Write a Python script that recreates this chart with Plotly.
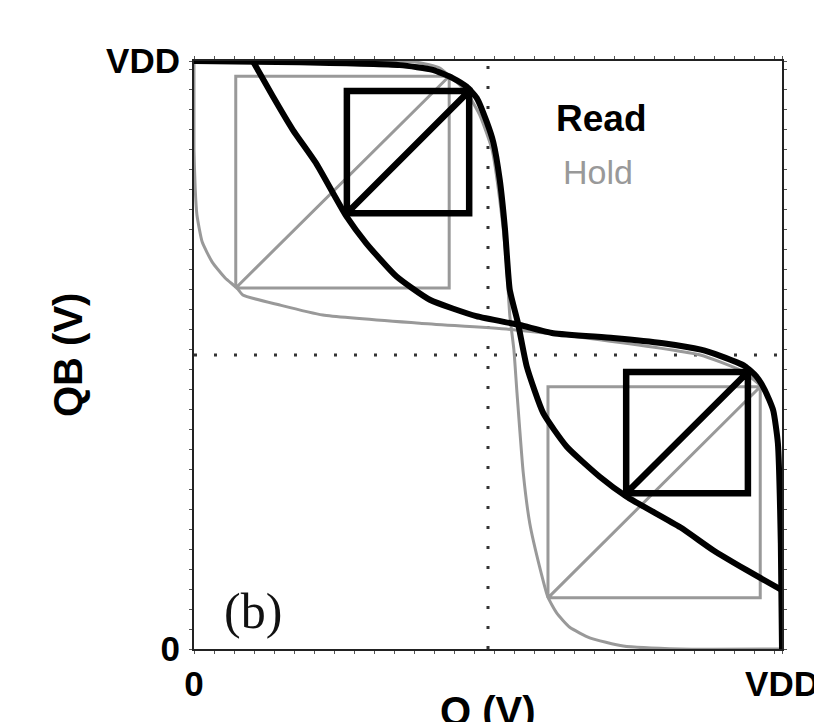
import plotly.graph_objects as go

# ---- data (VDD normalised to 1) ----
# Read VTC: QB as a function of Q
read_q = [0.0, 0.180, 0.350, 0.406, 0.440, 0.464, 0.481, 0.498, 0.509, 0.520, 0.529, 0.537,
          0.551, 0.566, 0.594, 0.634, 0.690, 0.736, 0.827, 0.883, 0.940, 1.0]
read_qb = [1.0, 0.998, 0.993, 0.985, 0.971, 0.956, 0.937, 0.896, 0.862, 0.798, 0.713, 0.611,
           0.554, 0.480, 0.401, 0.344, 0.293, 0.259, 0.207, 0.168, 0.134, 0.100]

# Hold VTC 1: QB as a function of Q
hold1_q = [0.0, 0.265, 0.379, 0.418, 0.435, 0.461, 0.486, 0.507, 0.520, 0.531, 0.537, 0.544,
           0.549, 0.560, 0.571, 0.588, 0.602, 0.617, 0.639, 0.673, 0.730, 0.827, 1.0]
hold1_qb = [1.0, 1.0, 0.998, 0.988, 0.974, 0.951, 0.908, 0.849, 0.764, 0.662, 0.568, 0.509,
            0.440, 0.299, 0.214, 0.139, 0.088, 0.061, 0.037, 0.019, 0.005, 0.0, 0.0]

# Hold VTC 2 (mirrored inverter)
hold2_q = [0.0, 0.0, 0.002, 0.005, 0.014, 0.031, 0.053, 0.073, 0.083, 0.146, 0.219, 0.384,
           0.543, 0.690, 0.861, 0.929, 0.959, 0.980, 0.993, 0.998, 1.0]
hold2_qb = [1.0, 0.849, 0.784, 0.738, 0.692, 0.658, 0.631, 0.614, 0.602, 0.585, 0.568, 0.554,
            0.543, 0.526, 0.500, 0.474, 0.452, 0.423, 0.355, 0.219, 0.0]

# Noise-margin squares: (q_low, q_high, qb_low, qb_high)
read_sq1 = (0.260, 0.468, 0.741, 0.949)
read_sq2 = (0.735, 0.942, 0.265, 0.471)
hold_sq1 = (0.071, 0.434, 0.614, 0.974)
hold_sq2 = (0.602, 0.963, 0.087, 0.446)

tick_vals = [0, 1]
tick_text = ["0", "VDD"]
legend_labels = ["Read", "Hold"]

BLACK = "#000000"
GRAY = "#999999"


def square_path(sq):
    x0, x1, y0, y1 = sq
    xs = [x0, x1, x1, x0, x0, x1]
    ys = [y0, y0, y1, y1, y0, y1]
    return xs, ys


fig = go.Figure()

curve_line_gray = dict(color=GRAY, width=3, shape="spline", smoothing=0.5)
curve_line_black = dict(color=BLACK, width=6, shape="spline", smoothing=0.5)

# Hold (gray) first
fig.add_trace(go.Scatter(x=hold1_q, y=hold1_qb, mode="lines",
                         line=curve_line_gray, showlegend=False))
fig.add_trace(go.Scatter(x=hold2_q, y=hold2_qb, mode="lines",
                         line=curve_line_gray, showlegend=False))
for sq in (hold_sq1, hold_sq2):
    xs, ys = square_path(sq)
    fig.add_trace(go.Scatter(x=xs, y=ys, mode="lines",
                             line=dict(color=GRAY, width=3), showlegend=False))

# Read (black)
fig.add_trace(go.Scatter(x=read_q, y=read_qb, mode="lines",
                         line=curve_line_black, showlegend=False))
fig.add_trace(go.Scatter(x=read_qb, y=read_q, mode="lines",
                         line=curve_line_black, showlegend=False))
for sq in (read_sq1, read_sq2):
    xs, ys = square_path(sq)
    fig.add_trace(go.Scatter(x=xs, y=ys, mode="lines",
                             line=dict(color=BLACK, width=6.5), showlegend=False))

# dotted mid lines
fig.add_shape(type="line", x0=0.5, x1=0.5, y0=0, y1=1, xref="x", yref="y", layer="below",
              line=dict(color="#333333", width=3, dash="3px,17px"))
fig.add_shape(type="line", x0=0, x1=1, y0=0.5, y1=0.5, xref="x", yref="y", layer="below",
              line=dict(color="#333333", width=3, dash="3px,17px"))

axis_common = dict(
    range=[0, 1], tickmode="array", tickvals=tick_vals, ticktext=tick_text,
    showgrid=False, zeroline=False, showline=True, linecolor="#222222", linewidth=2,
    mirror="allticks", ticks="outside", ticklen=3, tickcolor="#555555",
    automargin=False,
    tickfont=dict(family="Liberation Sans", size=35, color="#000000", weight="bold"),
    minor=dict(ticks="outside", ticklen=3, tickcolor="#555555", tickmode="linear",
               tick0=0, dtick=20 / 588, showgrid=False),
)

fig.update_xaxes(**axis_common, ticklabelstandoff=0)
fig.update_yaxes(**axis_common, ticklabelstandoff=2)

annotations = [
    dict(text="<b>" + legend_labels[0] + "</b>", x=0.612, y=0.903, xref="paper", yref="paper",
         xanchor="left", yanchor="middle", showarrow=False,
         font=dict(family="Liberation Sans", size=37, color=BLACK)),
    dict(text=legend_labels[1], x=0.624, y=0.811, xref="paper", yref="paper",
         xanchor="left", yanchor="middle", showarrow=False,
         font=dict(family="Liberation Sans", size=34, color=GRAY)),
    dict(text="(b)", x=0.100, y=0.065, xref="paper", yref="paper",
         xanchor="center", yanchor="middle", showarrow=False,
         font=dict(family="Liberation Serif", size=50, color="#111111")),
    dict(text="<b>QB (V)</b>", x=-0.2143, y=0.5, xref="paper", yref="paper",
         xanchor="center", yanchor="middle", textangle=-90, showarrow=False,
         font=dict(family="Liberation Sans", size=40, color=BLACK)),
    dict(text="<b>Q (V)</b>", x=0.5, y=-0.065, xref="paper", yref="paper",
         xanchor="center", yanchor="top", showarrow=False,
         font=dict(family="Liberation Sans", size=40, color=BLACK)),
]

# page body has an 8px margin, so the figure is drawn 8px smaller
fig.update_layout(
    width=814, height=714,
    margin=dict(l=186, r=40, t=53, b=73),
    paper_bgcolor="white", plot_bgcolor="white",
    annotations=annotations,
    showlegend=False,
)

fig.write_html("out.html")
